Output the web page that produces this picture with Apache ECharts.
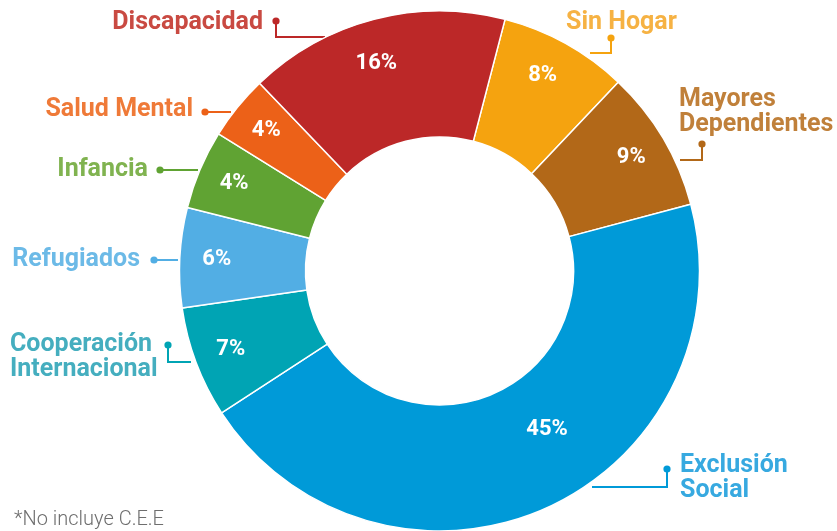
<!DOCTYPE html>
<html>
<head>
<meta charset="utf-8">
<script src="https://cdn.jsdelivr.net/npm/echarts@6/dist/echarts.min.js"></script>
<style>
html,body{margin:0;padding:0;background:#fff;}
#chart{width:837px;height:531px;}
</style>
</head>
<body>
<div id="chart"></div>
<script>
// ---- data ----
const categories = ['Sin Hogar', 'Mayores\nDependientes', 'Exclusión\nSocial', 'Cooperación\nInternacional', 'Refugiados', 'Infancia', 'Salud Mental', 'Discapacidad'];
const values = [8.0, 8.8, 44.9, 6.9, 6.2, 4.9, 4.0, 16.2];       // slice sizes
const pctLabels = [8, 9, 45, 7, 6, 4, 4, 16];                      // percentages printed on slices
const footnote = '*No incluye C.E.E';

// ---- styles ----
const sliceColors = ['#F5A30F', '#B26818', '#009AD8', '#00A4B4', '#52AEE4', '#60A333', '#EC6118', '#BC2828'];
const textColors  = ['#F6B243', '#C0803A', '#37A9E0', '#45AEBF', '#6CBAE7', '#80B350', '#EF7A38', '#C94A42'];

// ---- annotation layout (label anchor + leader line: edge, corner, dot) ----
const labelAnchors = [
  {x: 566, y: 23,  align: 'left'},
  {x: 679, y: 112, align: 'left'},
  {x: 680, y: 478, align: 'left'},
  {x: 10,  y: 357, align: 'left'},
  {x: 140, y: 260, align: 'right'},
  {x: 148, y: 170, align: 'right'},
  {x: 193, y: 110, align: 'right'},
  {x: 263, y: 23,  align: 'right'}
];
const leaderLines = [
  [[590, 53], [611, 53], [611, 38]],
  [[680, 160], [702, 160], [702, 144]],
  [[592, 487], [667, 487], [667, 469]],
  [[191, 362], [168, 362], [168, 345]],
  [[178, 260], [166, 260], [154, 260]],
  [[198, 170], [179, 170], [160, 170]],
  [[231, 112], [218, 112], [205, 112]],
  [[325, 37], [276, 37], [276, 21]]
];

const CENTER = [439.5, 271];
const START = 75.4;
const FONT = 'Roboto';

const chart = echarts.init(document.getElementById('chart'));

const mainData = values.map((v, i) => ({
  name: categories[i], value: v,
  itemStyle: {color: sliceColors[i]}
}));

const outerData = values.map((v, i) => ({
  name: categories[i], value: v,
  label: {color: textColors[i]},
  labelLine: {lineStyle: {color: sliceColors[i]}}
}));

const innerData = values.map((v, i) => ({name: categories[i], value: v, pct: pctLabels[i]}));

const option = {
  animation: false,
  title: {
    text: footnote, left: 14, top: 510, padding: 0,
    textStyle: {fontFamily: FONT, fontWeight: 300, fontSize: 20, color: '#6e6e6e'}
  },
  graphic: leaderLines.map((pts, i) => ({
    type: 'circle', z: 10,
    shape: {cx: pts[2][0], cy: pts[2][1], r: 3.6},
    style: {fill: sliceColors[i]}
  })),
  series: [
    {
      type: 'pie', z: 1, silent: true,
      center: CENTER, radius: [134, 260], startAngle: START, clockwise: true,
      avoidLabelOverlap: false,
      itemStyle: {color: 'rgba(0,0,0,0)', borderWidth: 0},
      label: {show: true, position: 'outside', formatter: '{b}', fontFamily: FONT, fontWeight: 'bold', fontSize: 25, lineHeight: 25},
      labelLine: {show: true, lineStyle: {width: 2}},
      labelLayout: function (p) {
        const a = labelAnchors[p.dataIndex];
        return {x: a.x, y: a.y, align: a.align, verticalAlign: 'middle', labelLinePoints: leaderLines[p.dataIndex]};
      },
      emphasis: {disabled: true},
      data: outerData
    },
    {
      type: 'pie', z: 2, silent: true,
      center: CENTER, radius: [134, 260], startAngle: START, clockwise: true,
      itemStyle: {borderColor: '#ffffff', borderWidth: 1.5},
      label: {show: false}, labelLine: {show: false},
      emphasis: {disabled: true},
      data: mainData
    },
    {
      type: 'pie', z: 3, silent: true,
      center: CENTER, radius: [180, 260], startAngle: START, clockwise: true,
      itemStyle: {color: 'rgba(0,0,0,0)', borderWidth: 0},
      label: {
        show: true, position: 'inside', color: '#ffffff',
        fontFamily: FONT, fontWeight: 'bold', fontSize: 22,
        formatter: p => p.data.pct + '%'
      },
      labelLine: {show: false},
      labelLayout: function (p) {
        if (p.dataIndex === 2) return {dx: 17, dy: -45};
        if (p.dataIndex === 7) return {dx: -7, dy: 8};
        if (p.dataIndex === 0) return {dx: -5, dy: 0};
        return {};
      },
      emphasis: {disabled: true},
      data: innerData
    }
  ]
};
chart.setOption(option);
</script>
</body>
</html>
